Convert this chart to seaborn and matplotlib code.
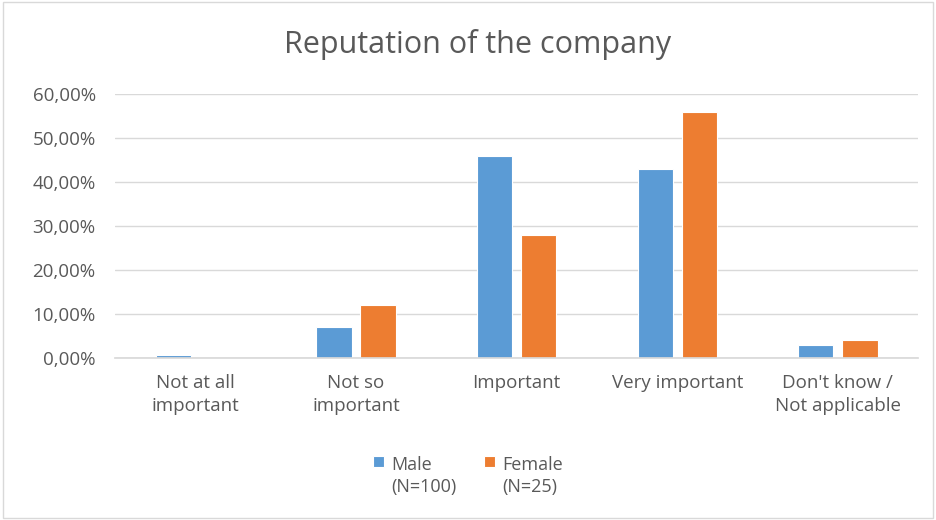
import pandas as pd
import numpy as np
import seaborn as sns
import matplotlib.pyplot as plt
from matplotlib.ticker import FuncFormatter
from matplotlib.patches import Rectangle

categories = ["Not at all\nimportant", "Not so\nimportant", "Important",
              "Very important", "Don't know /\nNot applicable"]
male = [0.6, 7, 46, 43, 3]
female = [0, 12, 28, 56, 4]
series = ["Male\n(N=100)", "Female\n(N=25)"]
colors = ["#5B9BD5", "#ED7D31"]

df = pd.DataFrame({
    "category": categories * 2,
    "value": male + female,
    "group": [series[0]] * 5 + [series[1]] * 5,
})

sns.set_theme(style="white")
plt.rcParams['font.family'] = ['Open Sans', 'DejaVu Sans']
txt = "#595959"

fig = plt.figure(figsize=(9.36, 5.2), dpi=100)
ax = fig.add_axes([0.123, 0.312, 0.858, 0.507])

sns.barplot(data=df, x="category", y="value", hue="group", palette=colors,
            saturation=1, width=0.55, gap=0.2, ax=ax,
            edgecolor="white", linewidth=0.8)

ax.set_ylim(0, 60)
ax.set_yticks(np.arange(0, 61, 10))
ax.yaxis.set_major_formatter(FuncFormatter(lambda v, p: f"{v:.2f}%".replace(".", ",")))
ax.grid(axis="y", color="#D9D9D9", linewidth=1)
ax.set_axisbelow(True)
for s in ["top", "right", "left"]:
    ax.spines[s].set_visible(False)
ax.spines["bottom"].set_color("#D9D9D9")
ax.tick_params(axis="both", colors=txt, labelsize=13.5, length=0)
ax.tick_params(axis="x", pad=12)
ax.tick_params(axis="y", pad=14)
ax.set_xlabel("")
ax.set_ylabel("")
for lbl in ax.get_xticklabels():
    lbl.set_linespacing(1.35)

fig.suptitle("Reputation of the company", fontsize=22, color=txt, x=0.51, y=0.945)

ax.legend_.remove()
handles, labels = ax.get_legend_handles_labels()
leg = fig.legend(handles, labels, loc="upper center", bbox_to_anchor=(0.5, 0.155),
                 ncol=2, frameon=False, fontsize=13, labelcolor=txt,
                 handlelength=0.6, handleheight=0.6, handletextpad=0.4,
                 columnspacing=1.5)
for col in leg._legend_handle_box.get_children():
    for entry in col.get_children():
        entry.align = "top"
for t in leg.get_texts():
    t.set_linespacing(1.3)

fig.patches.append(Rectangle((0.003, 0.003), 0.994, 0.994, transform=fig.transFigure,
                             fill=False, edgecolor="#D9D9D9", linewidth=1))

fig.savefig("out.png", dpi=100)
